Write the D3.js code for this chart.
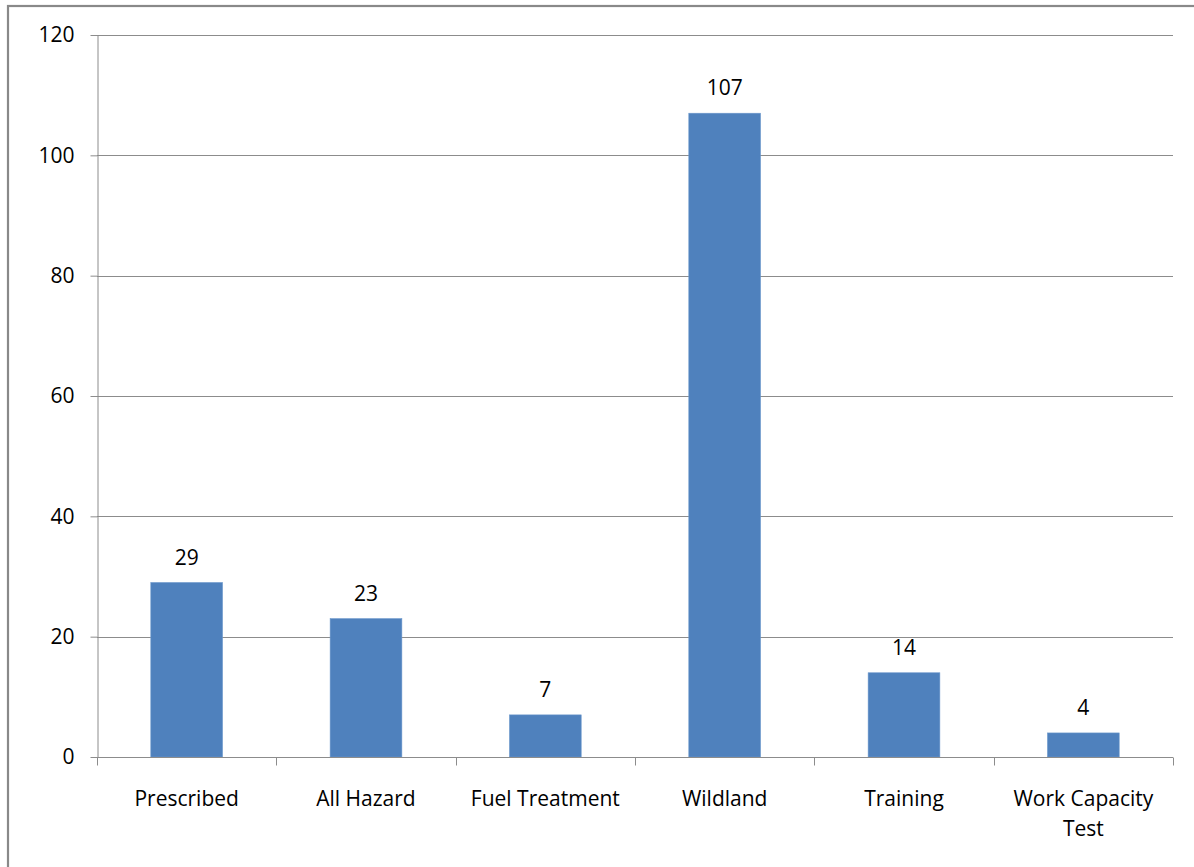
<!DOCTYPE html>
<html><head><meta charset="utf-8">
<script src="https://cdn.jsdelivr.net/npm/d3@7"></script>
<style>
html,body{margin:0;padding:0;background:#fff;overflow:hidden;}
svg{display:block;}
text{font-family:"Open Sans",sans-serif;fill:#000;}
</style></head>
<body>
<svg id="chart" width="1194" height="867"></svg>
<script>
const categories = ["Prescribed","All Hazard","Fuel Treatment","Wildland","Training","Work Capacity Test"];
const values = [29,23,7,107,14,4];
const yTicks = [0,20,40,60,80,100,120];

const svg = d3.select("#chart");
const W = 1194, H = 867;
const m = {left:97, right:1173, top:35, bottom:757};

// outer border
svg.append("rect").attr("x",8).attr("y",6).attr("width",1200).attr("height",900)
  .attr("fill","#fff").attr("stroke","#898989").attr("stroke-width",2.2);

const x = d3.scaleBand().domain(categories).range([m.left,m.right]).paddingInner(0.6).paddingOuter(0.3);
const xb = d3.scaleBand().domain(categories).range([m.left,m.right]);
const y = d3.scaleLinear().domain([0,120]).range([m.bottom,m.top]);

// gridlines
svg.append("g").selectAll("line").data(yTicks.filter(d=>d>0)).join("line")
  .attr("x1",m.left).attr("x2",m.right)
  .attr("y1",d=>Math.round(y(d))+0.5).attr("y2",d=>Math.round(y(d))+0.5)
  .attr("stroke","#8c8c8c").attr("stroke-width",1);

// y axis
const yAxis = d3.axisLeft(y).tickValues(yTicks).tickSize(7).tickPadding(16).tickSizeOuter(0);
const gy = svg.append("g").attr("transform",`translate(${m.left+0.5},0)`).call(yAxis);
gy.select(".domain").attr("stroke","#8c8c8c");
gy.selectAll(".tick line").attr("stroke","#8c8c8c");
gy.selectAll(".tick text").attr("font-size",21).attr("font-family","Open Sans").attr("fill","#000");

// bars
svg.append("g").selectAll("rect").data(values).join("rect")
  .attr("x",(d,i)=>x(categories[i]))
  .attr("width",x.bandwidth())
  .attr("y",d=>y(d))
  .attr("height",d=>y(0)-y(d))
  .attr("fill","#4F81BD")
  .attr("stroke","#6c98cc").attr("stroke-width",0.6);

// data labels
svg.append("g").selectAll("text").data(values).join("text")
  .attr("x",(d,i)=>x(categories[i])+x.bandwidth()/2)
  .attr("y",d=>y(d)-18)
  .attr("text-anchor","middle").attr("font-size",21)
  .text(d=>d);

// x axis
const gx = svg.append("g").attr("transform",`translate(0,${m.bottom+0.5})`);
gx.append("line").attr("x1",m.left).attr("x2",m.right).attr("stroke","#8c8c8c");
const bounds = categories.map(c=>xb(c)).concat([m.right]);
gx.selectAll("line.tk").data(bounds).join("line").attr("class","tk")
  .attr("x1",d=>Math.round(d)+0.5).attr("x2",d=>Math.round(d)+0.5)
  .attr("y1",0).attr("y2",8).attr("stroke","#8c8c8c");

const labelLines = {"Work Capacity Test":["Work Capacity","Test"]};
categories.forEach(c=>{
  const lines = labelLines[c] || [c];
  const t = svg.append("text").attr("text-anchor","middle").attr("font-size",21)
    .attr("x",xb(c)+xb.bandwidth()/2).attr("y",806);
  lines.forEach((l,i)=>t.append("tspan").attr("x",xb(c)+xb.bandwidth()/2).attr("dy",i?30:0).text(l));
});
</script>
</body></html>
